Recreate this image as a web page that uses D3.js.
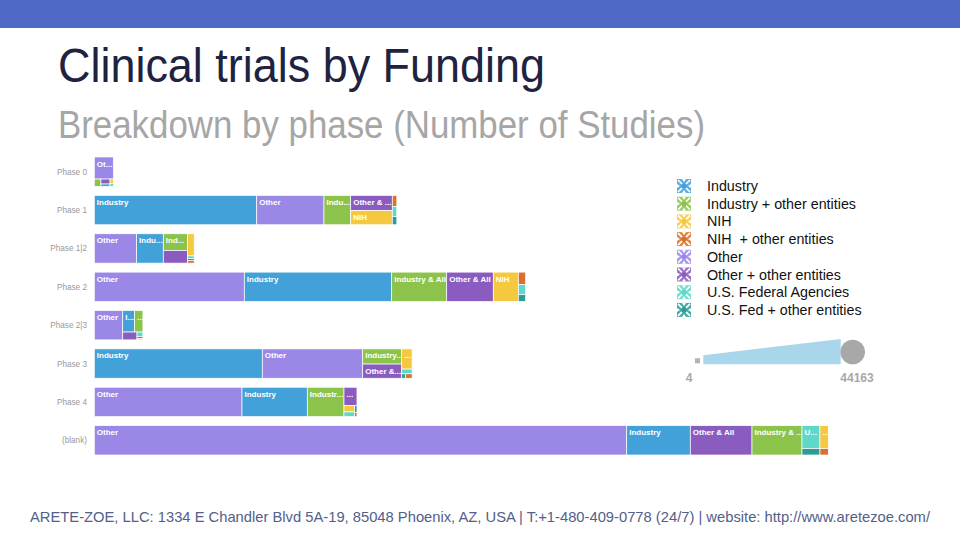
<!DOCTYPE html>
<html>
<head>
<meta charset="utf-8">
<script src="https://cdn.jsdelivr.net/npm/d3@7"></script>
<style>
  body { margin: 0; background: #fff; }
  svg { display: block; font-family: 'Liberation Sans', Arial, sans-serif; }
</style>
</head>
<body>
<svg id="chart" width="960" height="540"></svg>
<script>
const phases = ['Phase 0', 'Phase 1', 'Phase 1|2', 'Phase 2', 'Phase 2|3', 'Phase 3', 'Phase 4', '(blank)'];
const sourceKeys = ['IND', 'IND+', 'NIH', 'NIH+', 'OTH', 'OTH+', 'USF', 'USF+'];
const legendLabels = ['Industry', 'Industry + other entities', 'NIH', 'NIH\u00a0 + other entities',
  'Other', 'Other + other entities', 'U.S. Federal Agencies', 'U.S. Fed + other entities'];
const cellLabels = ['Industry', 'Industry & All', 'NIH', 'NIH & All', 'Other', 'Other & All', 'US Fed', 'US Fed & All'];
const sourceColors = ['#42a1d8', '#8cc34b', '#f5c93f', '#d9712c', '#9b88e6', '#8b5cc0', '#5ed8c8', '#2a9d95'];

// number of studies per funding source; [key, count] is one cell,
// a plain array groups cells into one stack of the treemap
const phase0 = [[['OTH', 1185], [['IND+', 138], [['OTH+', 127], ['IND', 60]], [['NIH', 40], ['USF', 28]]]]];
const phase1 = [['IND', 13471], ['OTH', 5583], ['IND+', 2215], [['OTH+', 1783], ['NIH', 1667]],
  [['NIH+', 140], ['USF', 130], ['USF+', 105]]];
const phase12 = [['OTH', 3510], ['IND', 2212], [['IND+', 1150], ['OTH+', 866]],
  [['NIH', 415], ['USF', 50], ['USF+', 40], ['NIH+', 45]]];
const phase2 = [['OTH', 12443], ['IND', 12227], ['IND+', 4562], ['OTH+', 3866], ['NIH', 2074],
  [['NIH+', 258], ['USF', 209], ['USF+', 141]]];
const phase23 = [['OTH', 2356], [[['IND', 720], ['IND+', 508]], [['OTH+', 317], [['USF', 75], ['USF+', 30], ['NIH', 25]]]]];
const phase3 = [['IND', 13936], ['OTH', 8328], [['IND+', 1672], ['OTH+', 1562]],
  [['NIH', 596], ['USF', 140], [['USF+', 50], ['NIH+', 80]]]];
const phase4 = [['OTH', 12252], ['IND', 5417], ['IND+', 3044],
  [['OTH+', 673], [[['NIH', 190], ['USF', 140]], [['USF+', 45], ['NIH+', 27]]]]];
const phaseBlank = [['OTH', 44163], ['IND', 5276], ['OTH+', 5118], ['IND+', 4148],
  [['USF', 1160], ['USF+', 330]], [['NIH', 540], ['NIH+', 152]]];
const phaseData = [phase0, phase1, phase12, phase2, phase23, phase3, phase4, phaseBlank];
const sizeExtent = [4, 44163];

const svg = d3.select('#chart');
const color = d3.scaleOrdinal().domain(sourceKeys).range(sourceColors);
const cellName = d3.scaleOrdinal().domain(sourceKeys).range(cellLabels);

// header band and titles
svg.append('rect').attr('x', 0).attr('y', 0).attr('width', 960).attr('height', 28).attr('fill', '#4f69c7');
svg.append('text').attr('x', 58).attr('y', 82)
  .attr('font-size', 49).attr('fill', '#1d2340')
  .attr('textLength', 487).attr('lengthAdjust', 'spacingAndGlyphs')
  .text('Clinical trials by Funding');
svg.append('text').attr('x', 58).attr('y', 138)
  .attr('font-size', 38).attr('fill', '#a6a6a6')
  .attr('textLength', 647).attr('lengthAdjust', 'spacingAndGlyphs')
  .text('Breakdown by phase (Number of Studies)');
svg.append('text').attr('x', 30).attr('y', 522)
  .attr('font-size', 14.5).attr('fill', '#52608a')
  .attr('textLength', 900).attr('lengthAdjust', 'spacingAndGlyphs')
  .text('ARETE-ZOE, LLC: 1334 E Chandler Blvd 5A-19, 85048 Phoenix, AZ, USA | T:+1-480-409-0778 (24/7) | website: http://www.aretezoe.com/');

function toNode(d) {
  return typeof d[0] === 'string' ? {key: d[0], value: d[1]} : {children: d.map(toNode)};
}

const roots = phaseData.map(d => d3.hierarchy(toNode(d)).sum(n => n.value || 0));

const x = d3.scaleLinear()
  .domain([0, d3.max(roots, r => r.value)])
  .range([0, 734]);
const y = d3.scaleBand()
  .domain(phases)
  .range([152.5, 459.5])
  .paddingInner(0.235)
  .paddingOuter(0.1175);

const left = 94.3;

// row labels
svg.selectAll('.row-label')
  .data(phases)
  .enter()
  .append('text')
  .attr('class', 'row-label')
  .attr('x', 87)
  .attr('y', d => y(d) + y.bandwidth() / 2 + 3)
  .attr('text-anchor', 'end')
  .attr('font-size', 8.2)
  .attr('fill', '#999')
  .text(d => d);

function fitLabel(sel, label, maxW) {
  sel.text(label);
  if (sel.node().getComputedTextLength() <= maxW) return;
  for (let n = label.length - 1; n >= 0; n--) {
    sel.text(label.slice(0, n) + '...');
    if (sel.node().getComputedTextLength() <= maxW) return;
  }
  sel.remove();
}

roots.forEach((root, i) => {
  d3.treemap()
    .tile(d3.treemapSliceDice)
    .size([x(root.value), y.bandwidth()])
    .round(false)(root);

  const g = svg.append('g')
    .attr('transform', `translate(${left},${y(phases[i])})`);

  const cells = g.selectAll('g')
    .data(root.leaves())
    .enter()
    .append('g')
    .attr('transform', d => `translate(${d.x0},${d.y0})`);

  cells.append('rect')
    .attr('width', d => d.x1 - d.x0)
    .attr('height', d => d.y1 - d.y0)
    .attr('fill', d => color(d.data.key))
    .attr('stroke', '#fff')
    .attr('stroke-width', 0.7);

  // only cells tall enough get a name
  cells.filter(d => d.y1 - d.y0 >= 13.5 && d.x1 - d.x0 >= 8)
    .append('text')
    .attr('x', 2.5)
    .attr('y', 9.5)
    .attr('font-size', 8)
    .attr('font-weight', 'bold')
    .attr('fill', '#fff')
    .each(function(d) {
      fitLabel(d3.select(this), cellName(d.data.key), d.x1 - d.x0 - 1);
    });
});

// colour legend
const legend = svg.append('g').attr('transform', 'translate(677,179)');
const items = legend.selectAll('g')
  .data(sourceKeys)
  .enter()
  .append('g')
  .attr('transform', (d, i) => `translate(0,${i * 17.7})`);
items.append('rect')
  .attr('width', 14).attr('height', 14)
  .attr('fill', d => color(d))
  .attr('fill-opacity', 0.85);
items.append('path')
  .attr('d', 'M1,1L13,13M13,1L1,13')
  .attr('stroke', '#fff')
  .attr('stroke-width', 1.6);
items.append('path')
  .attr('d', 'M5,0L9,0L7,3ZM5,14L9,14L7,11ZM0,5L0,9L3,7ZM14,5L14,9L11,7Z')
  .attr('fill', '#fff');
items.append('circle')
  .attr('cx', 7).attr('cy', 7).attr('r', 2.8)
  .attr('fill', d => color(d));
items.append('text')
  .attr('x', 30).attr('y', 12)
  .attr('font-size', 14.3)
  .attr('fill', '#111')
  .text((d, i) => legendLabels[i]);

// size legend
const sx = d3.scaleLinear().domain(sizeExtent).range([703.3, 840.7]);
const sh = d3.scaleLinear().domain(sizeExtent).range([9, 25.3]);
const base = 364.3;
svg.append('rect')
  .attr('x', 695).attr('y', 358.3).attr('width', 5).attr('height', 5)
  .attr('fill', '#b3b3b3');
svg.append('path')
  .attr('d', d3.line()([
    [sx(sizeExtent[0]), base - sh(sizeExtent[0])],
    [sx(sizeExtent[1]), base - sh(sizeExtent[1])],
    [sx(sizeExtent[1]), base],
    [sx(sizeExtent[0]), base],
  ]) + 'Z')
  .attr('fill', '#a9d6eb');
svg.append('circle')
  .attr('cx', 852.7).attr('cy', 352).attr('r', 12.3)
  .attr('fill', '#a8a8a8');
svg.append('text')
  .attr('x', 689).attr('y', 382)
  .attr('text-anchor', 'middle')
  .attr('font-size', 12).attr('font-weight', 'bold').attr('fill', '#a8a8a8')
  .text(sizeExtent[0]);
svg.append('text')
  .attr('x', 857).attr('y', 382)
  .attr('text-anchor', 'middle')
  .attr('font-size', 12).attr('font-weight', 'bold').attr('fill', '#a8a8a8')
  .text(sizeExtent[1]);
</script>
</body>
</html>
